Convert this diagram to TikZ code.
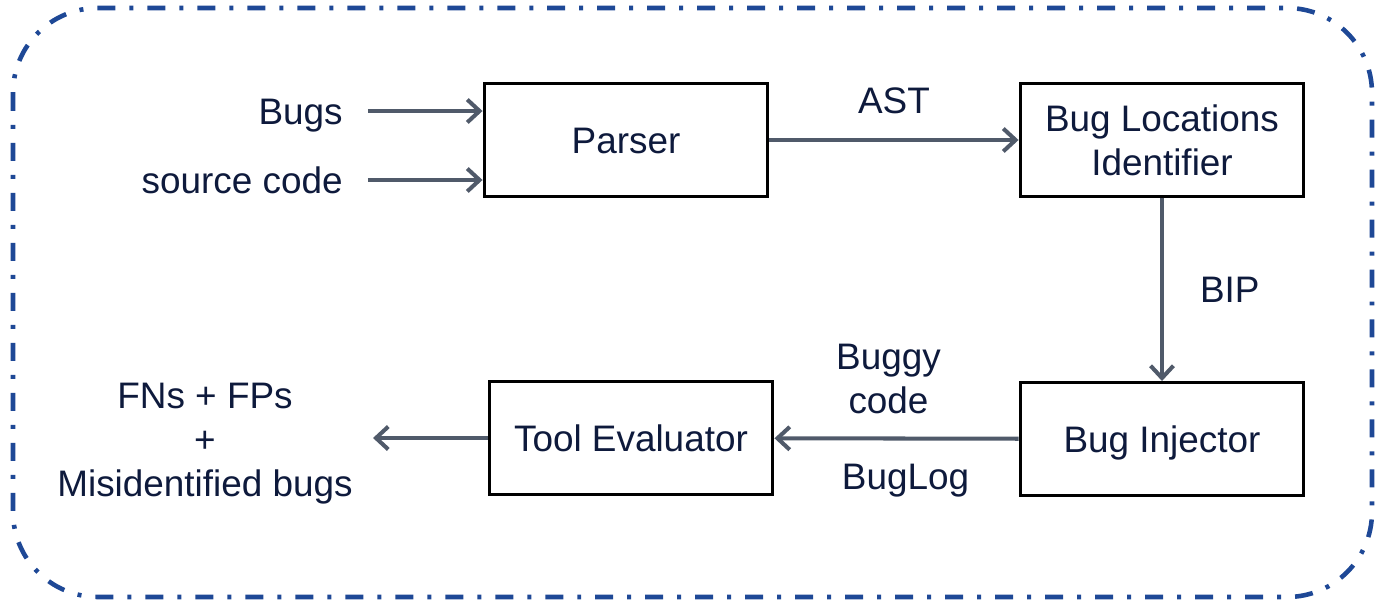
\documentclass[tikz,border=0pt]{standalone}
\usepackage{fontspec}
\setmainfont{Liberation Sans}
\usepackage{xcolor}
\usetikzlibrary{arrows.meta}
\definecolor{frame}{RGB}{30, 72, 150}
\definecolor{flowgray}{RGB}{80, 90, 106}
\definecolor{ink}{RGB}{14, 26, 60}

\tikzset{
  block/.style={draw=black, line width=1.7pt, fill=white, text=ink,
    minimum width=5.68cm, minimum height=2.26cm, align=center},
  oneline/.style={text height=15pt, text depth=0pt},
  flow/.style={->, draw=flowgray, line width=2.3pt},
  lbl/.style={text=ink, inner sep=0pt, align=center}
}

\begin{document}
\begin{tikzpicture}[x=0.02cm, y=-0.02cm, >={Straight Barb[length=7pt, width=13pt]},
  font=\fontsize{21pt}{25pt}\selectfont]
  \useasboundingbox (0,0) rectangle (1377,602);

  % Dash-dot frame
  \draw[frame, line width=2.6pt, rounded corners=1.7cm,
    dash pattern=on 0.36cm off 0.28cm on 0.08cm off 0.28cm]
    (13,8) rectangle (1372,597);

  % Blocks
  \node[block, oneline] (parser) at (626,140) {Parser};
  \node[block] (locid) at (1162,140) {Bug Locations\\Identifier};
  \node[block, oneline] (injector) at (1162,439) {Bug Injector};
  \node[block, oneline] (evaluator) at (631,438) {Tool Evaluator};

  % Inputs
  \node[lbl, oneline, anchor=east] (bugs) at (343,111) {Bugs};
  \node[lbl, anchor=east] (srccode) at (343,180) {source code};
  \draw[flow] ([xshift=0.5cm]bugs.east) -- (bugs.east -| parser.west);
  \draw[flow] ([xshift=0.5cm]srccode.east) -- (srccode.east -| parser.west);

  % Pipeline
  \draw[flow] (parser) -- (locid) node[lbl, midway, above=0.48cm] {AST};
  \draw[flow] (locid) -- (injector) node[lbl, midway, right=0.72cm] {BIP};
  \draw[flow] (injector) -- (evaluator)
    node[lbl, midway, above=0.46cm, xshift=-0.16cm] {Buggy\\code}
    node[lbl, midway, below=0.48cm, xshift=0.18cm] {BugLog};

  % Output
  \node[lbl] (result) at (205,444) {FNs + FPs\\+\\Misidentified bugs};
  \draw[flow] (evaluator) -- ([xshift=0.4cm]result.east |- evaluator.west);
\end{tikzpicture}
\end{document}
